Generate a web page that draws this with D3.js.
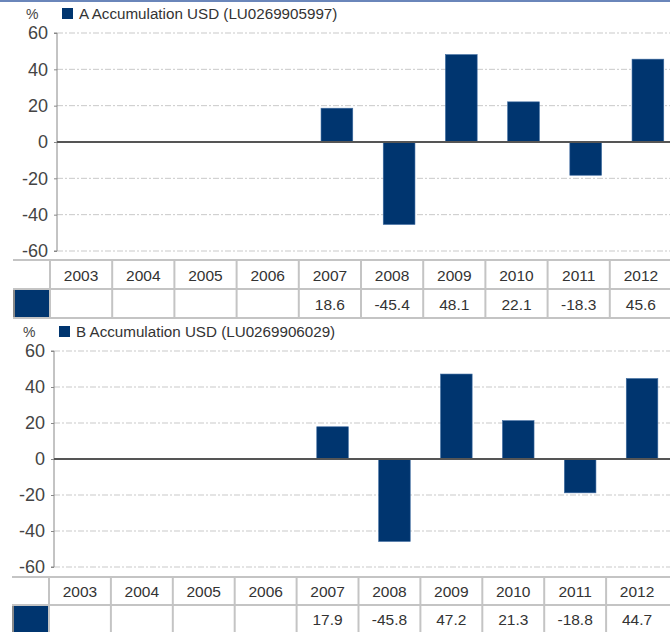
<!DOCTYPE html>
<html lang="en">
<head>
  <meta charset="UTF-8">
  <title>Annual performance</title>
  <script src="https://cdn.jsdelivr.net/npm/d3@7"></script>
  <style>
    body{ margin:0; background:#fff; }
    svg{ display:block; font-family:"Liberation Sans", Arial, sans-serif; }
  </style>
</head>
<body>
<div class="chart"></div>
<script>
const years = [2003, 2004, 2005, 2006, 2007, 2008, 2009, 2010, 2011, 2012];
const seriesA = [null, null, null, null, 18.6, -45.4, 48.1, 22.1, -18.3, 45.6];
const seriesB = [null, null, null, null, 17.9, -45.8, 47.2, 21.3, -18.8, 44.7];
const yTicks = [60, 40, 20, 0, -20, -40, -60];
const nameA = 'A Accumulation USD (LU0269905997)';
const nameB = 'B Accumulation USD (LU0269906029)';

const W = 670, H = 632;
const navy = '#00356f';
const svg = d3.select('.chart').append('svg').attr('width', W).attr('height', H);

svg.append('rect').attr('x', 0).attr('y', 0).attr('width', W).attr('height', 2).attr('fill', '#6a86ba');

function drawPanel(values, name, p){
  const g = svg.append('g');
  const y = d3.scaleLinear().domain([-60, 60]).range([p.yBot, p.yTop]);
  const x = d3.scaleBand().domain(years).range([p.axisX, p.axisX + p.colW * years.length]).paddingInner(0.49).paddingOuter(0.245);
  const xt = d3.scaleBand().domain(years).range([p.tableX, p.tableX + p.colW * years.length]);

  // grid
  g.selectAll('.grid').data(yTicks.filter(d => d !== 0)).enter().append('line')
    .attr('x1', p.axisX).attr('x2', W)
    .attr('y1', d => y(d)).attr('y2', d => y(d))
    .attr('stroke', '#c9c9c9').attr('stroke-width', 1).attr('stroke-dasharray', '6,2,2,2');

  // y axis
  const yAxis = d3.axisLeft(y).tickValues(yTicks).tickFormat(d => String(d)).tickSize(3).tickPadding(6);
  const ax = g.append('g').attr('transform', `translate(${p.axisX},0)`).call(yAxis);
  ax.select('.domain').attr('stroke', '#888').attr('d', `M-3,${y(60)}H0V${y(-60)}H-3`);
  ax.selectAll('.tick line').attr('stroke', '#888');
  ax.selectAll('.tick text').attr('font-size', 18).attr('fill', '#444').attr('font-family', '"Liberation Sans", Arial, sans-serif');

  // bars
  const bd = years.map((yr, i) => ({yr, v: values[i]})).filter(d => d.v !== null);
  g.selectAll('.bar').data(bd).enter().append('rect')
    .attr('x', d => x(d.yr)).attr('width', x.bandwidth())
    .attr('y', d => y(Math.max(0, d.v))).attr('height', d => Math.abs(y(d.v) - y(0)))
    .attr('fill', navy).attr('stroke', '#3d6aa0').attr('stroke-width', 0.6);

  // zero line
  g.append('line').attr('x1', p.axisX).attr('x2', W).attr('y1', y(0)).attr('y2', y(0))
    .attr('stroke', '#555').attr('stroke-width', 2);

  // legend
  g.append('text').attr('x', p.axisX - 31).attr('y', p.yTop - 14).attr('font-size', 14).attr('fill', '#444').text('%');
  g.append('rect').attr('x', p.axisX + 5).attr('y', p.yTop - 25).attr('width', 11).attr('height', 11).attr('fill', navy);
  g.append('text').attr('x', p.axisX + 22).attr('y', p.yTop - 14).attr('font-size', 15.2).attr('fill', '#333').text(name);

  // table
  const t1 = p.tableY, t2 = p.tableY + p.rowH, t3 = p.tableY + 2 * p.rowH;
  const tg = g.append('g');
  tg.append('rect').attr('x', p.tableX - 36).attr('y', t2).attr('width', 36).attr('height', p.rowH)
    .attr('fill', navy).attr('stroke', '#8a8a8a').attr('stroke-width', 2);
  [t1, t2, t3].forEach(ty => {
    tg.append('line').attr('x1', p.tableX - 37).attr('x2', W).attr('y1', ty).attr('y2', ty)
      .attr('stroke', '#c4c4c4').attr('stroke-width', 2);
  });
  tg.selectAll('.col').data(years).enter().append('line')
    .attr('x1', d => xt(d)).attr('x2', d => xt(d)).attr('y1', t1).attr('y2', t3)
    .attr('stroke', '#c4c4c4').attr('stroke-width', 2);
  tg.selectAll('.yr').data(years).enter().append('text')
    .attr('x', d => xt(d) + xt.bandwidth() / 2).attr('y', t1 + p.rowH / 2 + 6)
    .attr('text-anchor', 'middle').attr('font-size', 15.5).attr('fill', '#333').text(d => d);
  tg.selectAll('.val').data(bd).enter().append('text')
    .attr('x', d => xt(d.yr) + xt.bandwidth() / 2).attr('y', t2 + p.rowH / 2 + 6)
    .attr('text-anchor', 'middle').attr('font-size', 15.5).attr('fill', '#333').text(d => d.v.toFixed(1));
}

drawPanel(seriesA, nameA, {yTop: 33, yBot: 251, axisX: 57, tableX: 50, tableY: 260, rowH: 29, colW: 62.2});
drawPanel(seriesB, nameB, {yTop: 351, yBot: 567, axisX: 54, tableX: 49, tableY: 577, rowH: 28, colW: 61.9});
</script>
</body>
</html>
